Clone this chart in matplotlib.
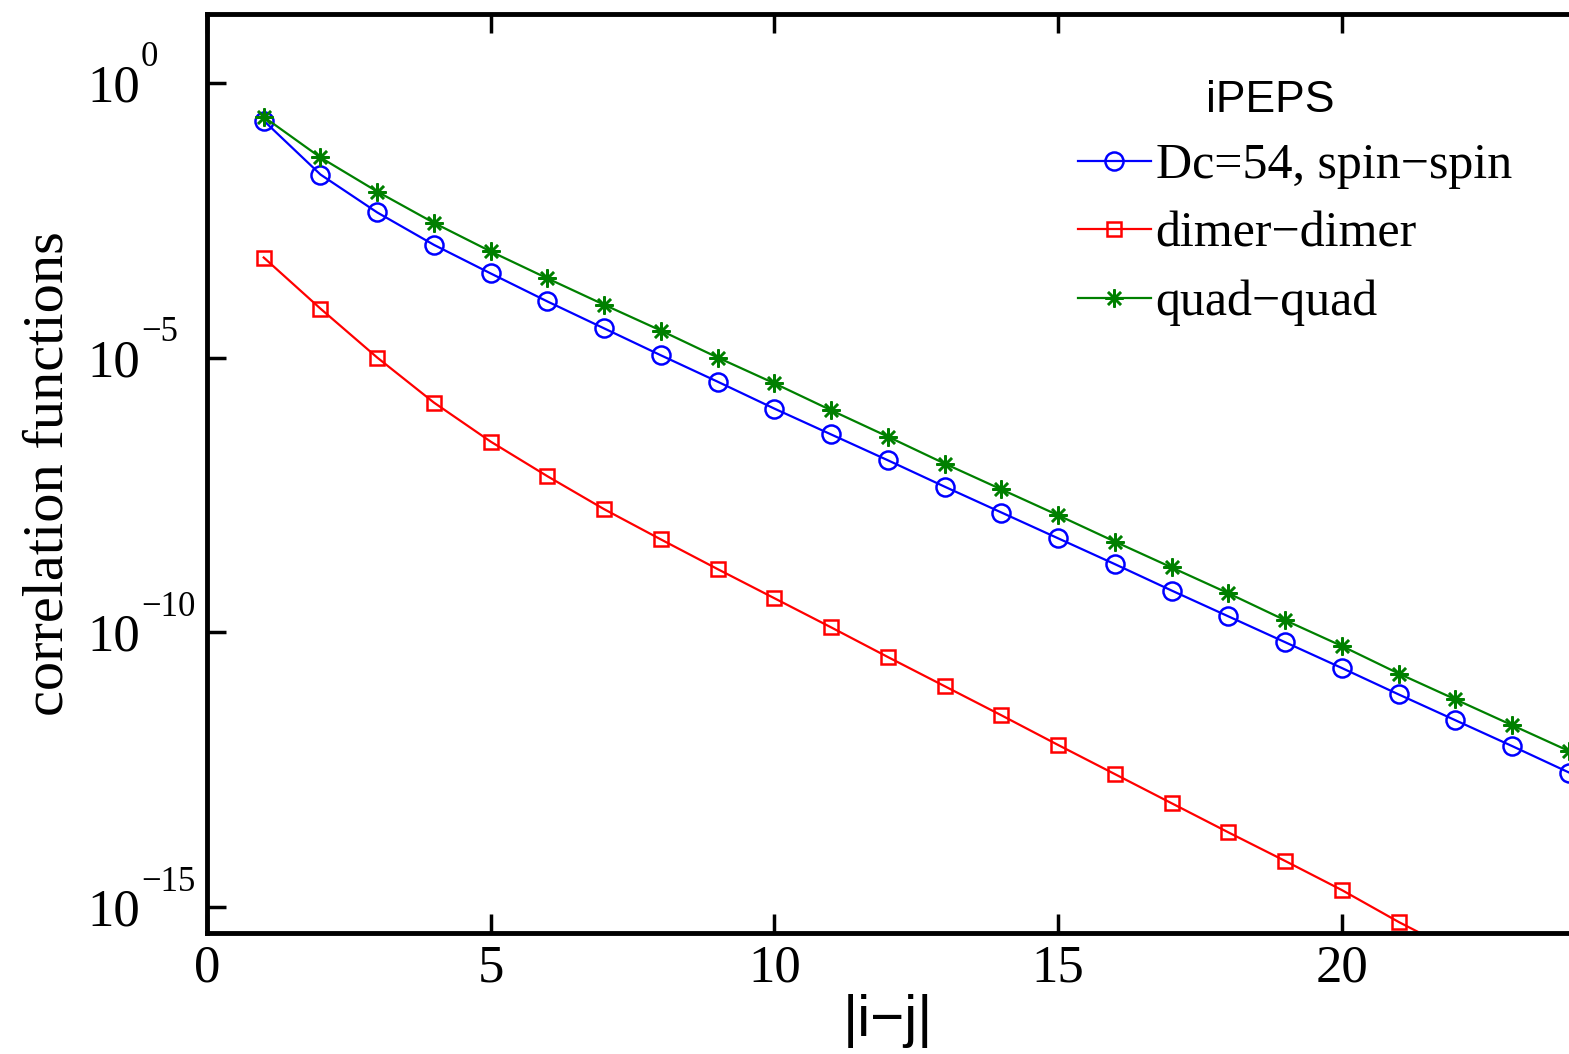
import matplotlib
matplotlib.use("Agg")
import matplotlib.pyplot as plt
import matplotlib.transforms as mtrans
import numpy as np

plt.rcParams['font.family'] = ['Liberation Serif', 'DejaVu Serif']

# distance |i-j|
dist = list(range(1, 25))
dist_red = list(range(1, 23))

# log10 of correlation values
log_spin = [-0.69, -1.67, -2.36, -2.95, -3.47, -3.98, -4.47, -4.96, -5.44, -5.93,
            -6.40, -6.87, -7.35, -7.82, -8.29, -8.76, -9.24, -9.71, -10.18, -10.65,
            -11.13, -11.60, -12.07, -12.55]
log_dimer = [-3.18, -4.11, -5.00, -5.82, -6.53, -7.16, -7.76, -8.31, -8.85, -9.38,
             -9.91, -10.45, -10.98, -11.51, -12.05, -12.58, -13.11, -13.64, -14.16, -14.69,
             -15.27, -15.80]
log_quad = [-0.62, -1.36, -1.98, -2.55, -3.07, -3.56, -4.04, -4.51, -5.00, -5.47,
            -5.96, -6.44, -6.93, -7.40, -7.87, -8.35, -8.82, -9.29, -9.78, -10.25,
            -10.75, -11.22, -11.69, -12.16]

y_exps = [-15, -10, -5, 0]
x_ticks = [0, 5, 10, 15, 20]

fig = plt.figure(figsize=(15.69, 10.54), dpi=100)
ax = fig.add_axes([0.1319, 0.1148, 0.8681, 0.8719])

ax.semilogy(dist, 10.0 ** np.array(log_spin), '-o', color='blue', lw=1.6, ms=13,
            mfc='none', mew=1.8, label='Dc=54, spin\u2212spin')
ax.semilogy(dist_red, 10.0 ** np.array(log_dimer), '-s', color='red', lw=1.6, ms=10,
            mfc='none', mew=1.8, label='dimer\u2212dimer')
ax.semilogy(dist, 10.0 ** np.array(log_quad), '-', marker=(8, 2, 0), color='green',
            lw=1.6, ms=13, mew=1.8, label='quad\u2212quad')

ax.set_xlim(0, 24)
ax.set_ylim(10 ** -15.47, 10 ** 1.25)
ax.set_xticks(x_ticks)
ax.set_yticks([10.0 ** e for e in y_exps])
# MATLAB style: base "10" aligned, exponent hanging to the right
ax.set_yticklabels(['10'] * len(y_exps))
ax.minorticks_off()
ax.tick_params(axis='both', which='major', direction='in', length=14, width=2.5,
               labelsize=38, top=True, right=False)
ax.tick_params(axis='y', pad=48)
ax.tick_params(axis='x', pad=8)
ax.spines['right'].set_visible(False)
for s in ['left', 'bottom', 'top']:
    ax.spines[s].set_linewidth(3.5)

exp_tr = ax.get_yaxis_transform() + mtrans.ScaledTranslation(0, 18 / 72, fig.dpi_scale_trans)
for e in y_exps:
    ax.text(-0.0485, 10.0 ** e, '\u2212' + str(-e) if e < 0 else str(e),
            transform=exp_tr, ha='left', va='center', fontsize=25)

ax.set_xlabel('|i\u2212j|', fontsize=42, family='Liberation Sans')
ax.xaxis.set_label_coords(0.5, -0.066)
ax.set_ylabel('correlation functions', fontsize=42)
ax.yaxis.set_label_coords(-0.097, 0.5)

leg = ax.legend(loc='upper left', bbox_to_anchor=(0.625, 0.95), frameon=False,
                fontsize=36, title='iPEPS' + '\u00a0' * 4, handlelength=1.45,
                handletextpad=0.1, labelspacing=0.44, borderaxespad=0)
leg.get_title().set_fontfamily('Liberation Sans')
leg.get_title().set_fontsize(32)

fig.savefig('out.png', dpi=100)
